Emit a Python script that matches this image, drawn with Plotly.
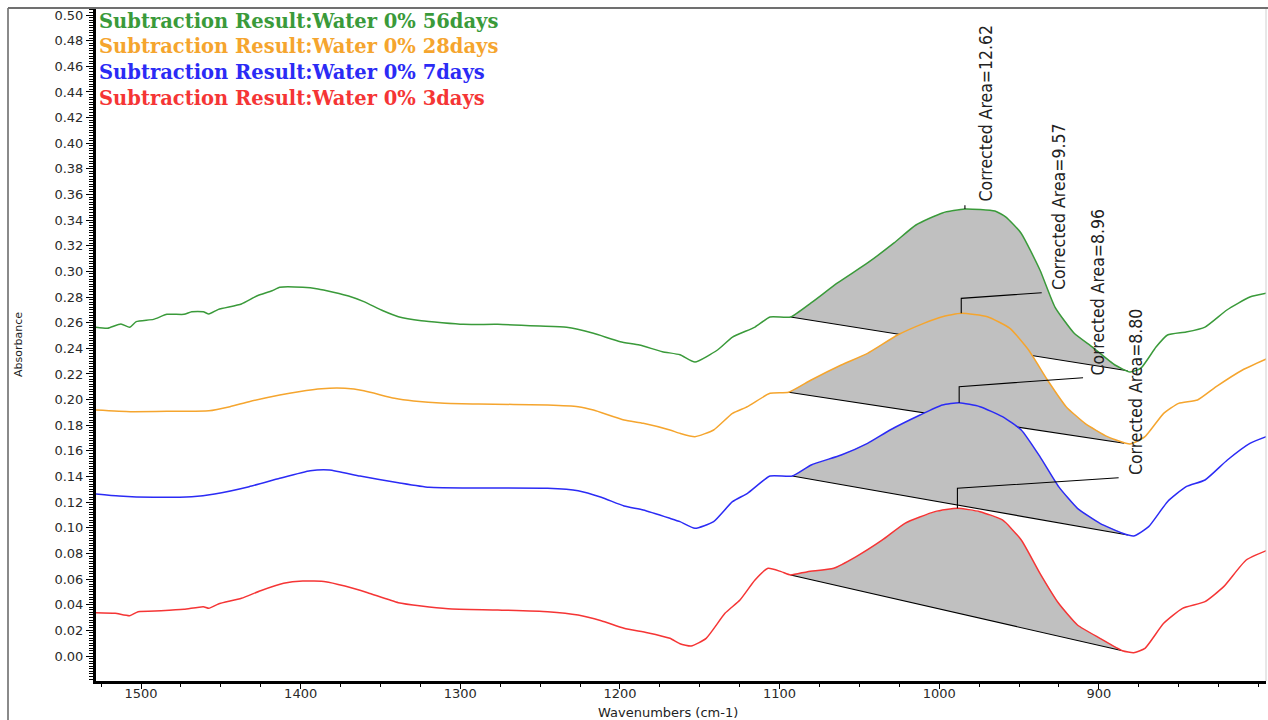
import numpy as np
import plotly.graph_objects as go

# ---------------- data ----------------
wn_56 = [1528.2, 1521.0, 1512.6, 1507.1, 1503.0, 1492.2, 1483.8, 1473.1, 1468.2, 1461.0,
         1457.5, 1451.5, 1437.1, 1427.5, 1417.9, 1413.1, 1398.7, 1389.1, 1379.5, 1370.0,
         1360.4, 1348.4, 1338.8, 1324.4, 1298.1, 1276.5, 1250.1, 1233.4, 1216.6, 1199.8,
         1187.8, 1173.4, 1162.4, 1153.0, 1138.9, 1129.5, 1115.4, 1106.0, 1093.1, 1080.3,
         1063.7, 1044.9, 1028.3, 1014.6, 998.0, 983.9, 965.1, 958.2, 948.8, 936.9,
         927.5, 915.6, 904.0, 889.9, 880.5, 873.6, 864.2, 857.0, 845.4, 833.5,
         819.8, 805.4, 794.1]
abs_56 = [0.2564, 0.2556, 0.2590, 0.2564, 0.2608, 0.2626, 0.2665, 0.2665, 0.2686, 0.2686,
          0.2668, 0.2704, 0.2746, 0.2808, 0.2849, 0.2876, 0.2876, 0.2863, 0.2837, 0.2808,
          0.2764, 0.2693, 0.2647, 0.2615, 0.2587, 0.2587, 0.2574, 0.2564, 0.2517, 0.2452,
          0.2426, 0.2374, 0.2350, 0.2293, 0.2387, 0.2488, 0.2566, 0.2644, 0.2644, 0.2754,
          0.2910, 0.3066, 0.3222, 0.3362, 0.3456, 0.3487, 0.3471, 0.3424, 0.3300, 0.3011,
          0.2722, 0.2520, 0.2410, 0.2270, 0.2215, 0.2246, 0.2410, 0.2504, 0.2527, 0.2566,
          0.2699, 0.2800, 0.2832]

wn_28 = [1528.2, 1506.6, 1480.3, 1457.5, 1444.3, 1432.3, 1413.1, 1401.2, 1386.8, 1372.3,
         1360.4, 1341.2, 1329.3, 1310.0, 1288.5, 1245.3, 1226.2, 1216.6, 1197.4, 1185.4,
         1168.7, 1162.4, 1153.0, 1141.3, 1129.5, 1120.1, 1106.0, 1094.3, 1080.2, 1061.4,
         1044.9, 1026.1, 1009.7, 998.0, 986.2, 969.8, 955.7, 944.0, 932.2, 920.5,
         908.7, 894.6, 880.5, 871.1, 859.4, 850.0, 838.2, 826.5, 810.0, 794.1]
abs_28 = [0.1919, 0.1906, 0.1909, 0.1913, 0.1945, 0.1984, 0.2036, 0.2062, 0.2085, 0.2088,
          0.2069, 0.2010, 0.1989, 0.1971, 0.1966, 0.1958, 0.1945, 0.1919, 0.1841, 0.1815,
          0.1763, 0.1737, 0.1711, 0.1763, 0.1893, 0.1945, 0.2049, 0.2057, 0.2153, 0.2270,
          0.2361, 0.2504, 0.2595, 0.2647, 0.2673, 0.2647, 0.2556, 0.2387, 0.2153, 0.1945,
          0.1815, 0.1711, 0.1654, 0.1711, 0.1893, 0.1971, 0.1997, 0.2101, 0.2231, 0.2322]

wn_7 = [1528.2, 1513.8, 1492.2, 1468.2, 1453.9, 1432.3, 1413.1, 1394.0, 1382.0, 1362.8,
        1338.8, 1319.6, 1288.5, 1245.3, 1226.2, 1211.7, 1197.4, 1185.4, 1168.7, 1162.4,
        1153.0, 1141.3, 1129.5, 1120.1, 1106.0, 1092.0, 1080.2, 1061.4, 1044.9, 1030.8,
        1012.0, 998.0, 987.5, 974.5, 960.4, 948.6, 936.9, 925.2, 913.4, 899.3,
        885.2, 878.2, 868.8, 857.0, 845.3, 833.5, 819.5, 805.4, 794.1]
abs_7 = [0.1264, 0.1248, 0.1238, 0.1243, 0.1264, 0.1321, 0.1386, 0.1445, 0.1451, 0.1404,
         0.1352, 0.1316, 0.1310, 0.1308, 0.1289, 0.1238, 0.1170, 0.1139, 0.1074, 0.1048,
         0.0996, 0.1048, 0.1204, 0.1269, 0.1404, 0.1404, 0.1490, 0.1568, 0.1659, 0.1763,
         0.1880, 0.1958, 0.1976, 0.1945, 0.1867, 0.1763, 0.1555, 0.1321, 0.1152, 0.1035,
         0.0957, 0.0936, 0.1009, 0.1204, 0.1321, 0.1373, 0.1529, 0.1659, 0.1716]

wn_3 = [1528.2, 1516.2, 1507.1, 1501.8, 1487.4, 1473.1, 1461.0, 1457.5, 1451.5, 1437.1,
        1425.1, 1410.7, 1398.7, 1384.4, 1372.3, 1358.0, 1338.8, 1324.4, 1307.6, 1276.5,
        1245.3, 1226.2, 1211.7, 1197.4, 1182.9, 1168.7, 1162.4, 1155.4, 1146.0, 1134.2,
        1124.8, 1115.4, 1107.2, 1099.0, 1093.1, 1082.5, 1066.1, 1052.0, 1035.6, 1021.5,
        1002.7, 988.6, 974.5, 960.4, 948.6, 936.9, 925.2, 913.4, 899.3, 885.2,
        878.2, 871.1, 859.4, 847.6, 833.5, 821.8, 807.7, 794.1]
abs_3 = [0.0338, 0.0333, 0.0314, 0.0346, 0.0353, 0.0364, 0.0385, 0.0372, 0.0406, 0.0450,
         0.0509, 0.0567, 0.0585, 0.0580, 0.0546, 0.0494, 0.0416, 0.0390, 0.0369, 0.0359,
         0.0346, 0.0320, 0.0275, 0.0216, 0.0182, 0.0138, 0.0096, 0.0078, 0.0138, 0.0333,
         0.0437, 0.0593, 0.0684, 0.0658, 0.0632, 0.0658, 0.0684, 0.0775, 0.0905, 0.1035,
         0.1126, 0.1152, 0.1126, 0.1061, 0.0905, 0.0645, 0.0411, 0.0242, 0.0138, 0.0041,
         0.0026, 0.0060, 0.0255, 0.0372, 0.0424, 0.0541, 0.0749, 0.0827]

series_names = ["Subtraction Result:Water 0% 56days",
                "Subtraction Result:Water 0% 28days",
                "Subtraction Result:Water 0% 7days",
                "Subtraction Result:Water 0% 3days"]
corrected_areas = ["12.62", "9.57", "8.96", "8.80"]

# integration baseline limits (wavenumber, absorbance) at start and end
base_start_wn = [1093.1, 1094.3, 1092.0, 1093.1]
base_start_abs = [0.2644, 0.2057, 0.1404, 0.0632]
base_end_wn = [882.0, 884.1, 881.8, 885.2]
base_end_abs = [0.2225, 0.1659, 0.0944, 0.0041]

x_ticks = [1500, 1400, 1300, 1200, 1100, 1000, 900]

# ---------------- styling ----------------
colors = ["#3a9a3a", "#f5a52e", "#2b2bf5", "#f53535"]
fill_col = "#c0c0c0"
wns = [wn_56, wn_28, wn_7, wn_3]
absv = [abs_56, abs_28, abs_7, abs_3]

# annotation text placement (wavenumber of text centre, absorbance at text bottom)
label_pos = [(970.7, 0.3534), (925.3, 0.2839), (900.6, 0.2176), (877.0, 0.1396)]
# leader rise above peak and leader end point
leader = [None, (0.0117, 935.8, 0.2834), (0.0125, 909.9, 0.2171), (0.0156, 887.6, 0.1391)]

fig = go.Figure()

# fills + baselines (top series first so lower fills cover earlier baselines)
for i in range(4):
    w = np.array(wns[i]); a = np.array(absv[i])
    m = (w < base_start_wn[i]) & (w > base_end_wn[i])
    px = [base_start_wn[i]] + list(w[m]) + [base_end_wn[i], base_start_wn[i]]
    py = [base_start_abs[i]] + list(a[m]) + [base_end_abs[i], base_start_abs[i]]
    fig.add_trace(go.Scatter(x=px, y=py, mode="lines", fill="toself",
                             fillcolor=fill_col, line=dict(width=0),
                             hoverinfo="skip", showlegend=False))
    fig.add_trace(go.Scatter(x=[base_start_wn[i], base_end_wn[i]],
                             y=[base_start_abs[i], base_end_abs[i]],
                             mode="lines", line=dict(color="black", width=1.1),
                             hoverinfo="skip", showlegend=False))

# spectra
for i in range(4):
    fig.add_trace(go.Scatter(x=wns[i], y=absv[i], mode="lines", name=series_names[i],
                             line=dict(color=colors[i], width=1.5, shape="spline", smoothing=0.5),
                             showlegend=False))

# leader lines from peak
for i in range(4):
    w = np.array(wns[i]); a = np.array(absv[i])
    m = (w < base_start_wn[i]) & (w > base_end_wn[i])
    k = np.argmax(np.where(m, a, -1))
    pw, pa = w[k], a[k]
    if leader[i] is None:
        lx, ly = [pw, pw], [pa, pa + 0.003]
    else:
        rise, ex, ey = leader[i]
        lx, ly = [pw, pw, ex], [pa, pa + rise, ey]
    fig.add_trace(go.Scatter(x=lx, y=ly, mode="lines", line=dict(color="black", width=1.1),
                             hoverinfo="skip", showlegend=False))

annotations = []
for i in range(4):
    annotations.append(dict(x=label_pos[i][0], y=label_pos[i][1], xref="x", yref="y",
                            text="Corrected Area=" + corrected_areas[i], textangle=-90,
                            showarrow=False, xanchor="center", yanchor="bottom",
                            font=dict(family="Liberation Sans Narrow, Arial Narrow, DejaVu Sans Condensed, sans-serif",
                                      size=17.5, color="#222")))

# legend text
for i in range(4):
    annotations.append(dict(x=0.001, y=1 - (21 + 25.7 * i - 9) / 672, xref="paper", yref="paper",
                            text=series_names[i], showarrow=False, xanchor="left", yanchor="middle",
                            font=dict(family="DejaVu Serif, serif", size=19.5, color=colors[i],
                                      weight="bold")))

# axis titles
annotations.append(dict(x=(18 - 96) / 1170, y=(681 - 345) / 672, xref="paper", yref="paper",
                        text="Absorbance", textangle=-90, showarrow=False,
                        xanchor="center", yanchor="middle",
                        font=dict(family="DejaVu Sans, Arial, sans-serif", size=11, color="#222")))
annotations.append(dict(x=(668 - 96) / 1170, y=(681 - 712) / 672, xref="paper", yref="paper",
                        text="Wavenumbers (cm-1)", showarrow=False,
                        xanchor="center", yanchor="middle",
                        font=dict(family="DejaVu Sans, Arial, sans-serif", size=13, color="#222")))

shapes = [
    dict(type="line", xref="paper", yref="paper", x0=(8 - 96) / 1170, x1=(8 - 96) / 1170,
         y0=(681 - 720) / 672, y1=1 + 1 / 672, line=dict(color="#8a8a8a", width=2)),
    dict(type="line", xref="paper", yref="paper", x0=(8 - 96) / 1170, x1=(1268 - 96) / 1170,
         y0=1 + 1 / 672, y1=1 + 1 / 672, line=dict(color="#707070", width=2)),
    dict(type="line", xref="paper", yref="paper", x0=1.0, x1=1.0,
         y0=0, y1=1, line=dict(color="#d0d0d0", width=1)),
]

tickfont = dict(family="DejaVu Sans, Arial, sans-serif", size=13, color="#2a2a2a")
fig.update_layout(
    width=1268, height=720,
    margin=dict(l=96, r=2, t=9, b=39),
    paper_bgcolor="white", plot_bgcolor="white",
    showlegend=False,
    annotations=annotations, shapes=shapes,
    xaxis=dict(range=[1528.2, 795.3], tickvals=x_ticks, ticks="outside", ticklen=5,
               tickwidth=1, tickcolor="black", showline=True, linewidth=3, linecolor="black",
               showgrid=False, zeroline=False, tickfont=tickfont, ticklabelstandoff=-7,
               minor=dict(dtick=25, tick0=1500, ticks="outside", ticklen=3, tickcolor="black")),
    yaxis=dict(range=[-0.0195, 0.5047], dtick=0.02, tick0=0, tickformat=".2f", ticks="outside",
               ticklen=7, tickwidth=1, tickcolor="black", showline=True, linewidth=3,
               linecolor="black", showgrid=False, zeroline=False, tickfont=tickfont,
               minor=dict(dtick=0.002, tick0=0, ticks="outside", ticklen=4, tickcolor="black")),
)

fig.write_html("out.html")
